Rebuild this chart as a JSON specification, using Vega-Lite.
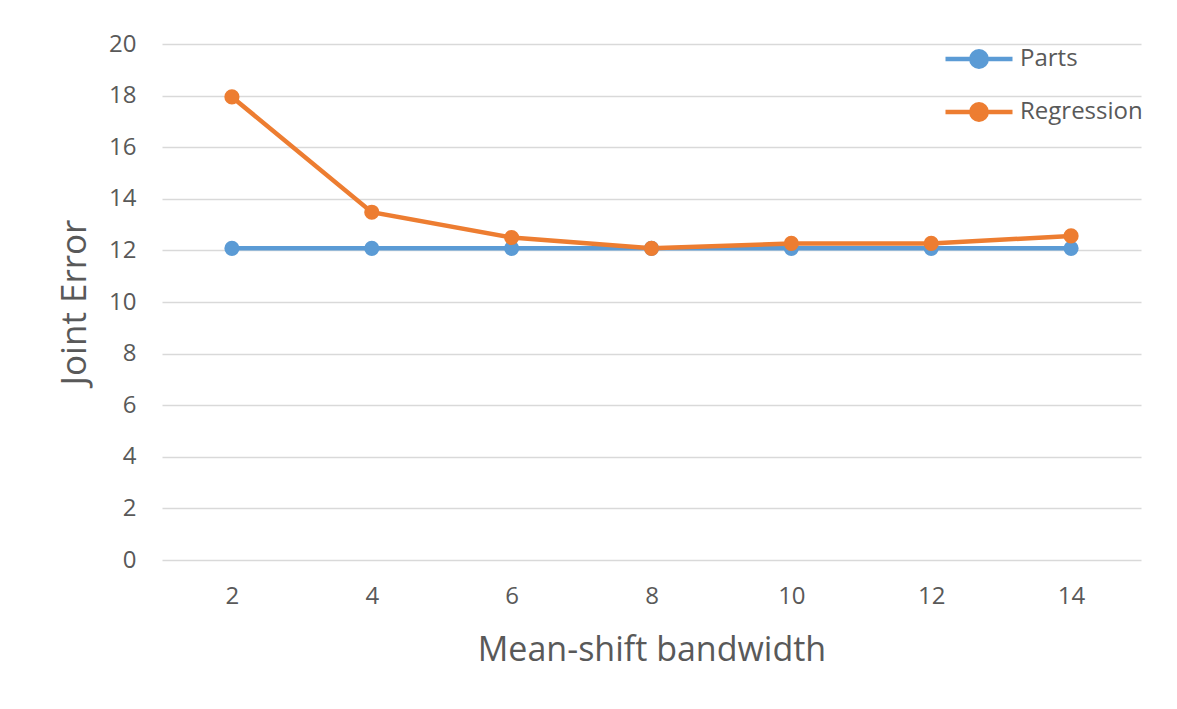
{
  "$schema": "https://vega.github.io/schema/vega-lite/v6.json",
  "width": 979,
  "height": 516,
  "autosize": {"type": "none"},
  "padding": {"left": 162, "top": 44, "right": 36, "bottom": 149},
  "background": "white",
  "config": {
    "view": {"stroke": null},
    "font": "Open Sans",
    "axis": {"labelColor": "#595959", "titleColor": "#595959", "titleFontWeight": "normal", "labelFont": "Open Sans", "titleFont": "Open Sans"},
    "legend": {"labelColor": "#595959", "labelFont": "Open Sans"}
  },
  "data": {
    "values": [
      {"bandwidth": 2, "series": "Parts", "error": 12.08},
      {"bandwidth": 4, "series": "Parts", "error": 12.08},
      {"bandwidth": 6, "series": "Parts", "error": 12.08},
      {"bandwidth": 8, "series": "Parts", "error": 12.08},
      {"bandwidth": 10, "series": "Parts", "error": 12.08},
      {"bandwidth": 12, "series": "Parts", "error": 12.08},
      {"bandwidth": 14, "series": "Parts", "error": 12.08},
      {"bandwidth": 2, "series": "Regression", "error": 17.95},
      {"bandwidth": 4, "series": "Regression", "error": 13.48},
      {"bandwidth": 6, "series": "Regression", "error": 12.5},
      {"bandwidth": 8, "series": "Regression", "error": 12.08},
      {"bandwidth": 10, "series": "Regression", "error": 12.27},
      {"bandwidth": 12, "series": "Regression", "error": 12.27},
      {"bandwidth": 14, "series": "Regression", "error": 12.56}
    ]
  },
  "mark": {"type": "line", "strokeWidth": 4.5, "point": {"filled": true, "size": 230}},
  "encoding": {
    "x": {
      "field": "bandwidth", "type": "ordinal",
      "scale": {"type": "point", "padding": 0.5},
      "sort": null,
      "axis": {"title": "Mean-shift bandwidth", "labelAngle": 0, "labelFontSize": 24, "titleFontSize": 34, "labelPadding": 24, "titlePadding": 25, "ticks": false, "domain": false, "grid": false}
    },
    "y": {
      "field": "error", "type": "quantitative",
      "scale": {"domain": [0, 20]},
      "axis": {"title": "Joint Error", "values": [0, 2, 4, 6, 8, 10, 12, 14, 16, 18, 20], "labelFontSize": 24, "titleFontSize": 35, "labelPadding": 26, "titlePadding": 16, "ticks": false, "domain": false, "grid": true, "gridColor": "#d9d9d9", "gridWidth": 1.5}
    },
    "color": {
      "field": "series", "type": "nominal",
      "scale": {"domain": ["Parts", "Regression"], "range": ["#5B9BD5", "#ED7D31"]},
      "legend": {
        "title": null, "orient": "none", "legendX": 781, "legendY": -21,
        "padding": 0, "rowPadding": -13, "labelFontSize": 24, "labelOffset": 5,
        "symbolType": "M-1,0H1M-0.23,0A0.23,0.23 0 1,1 0.23,0A0.23,0.23 0 1,1 -0.23,0Z",
        "symbolSize": 4489, "symbolStrokeWidth": 4.5,
        "encode": {"symbols": {"update": {"fill": {"scale": "color", "field": "value"}, "stroke": {"scale": "color", "field": "value"}}}}
      }
    }
  }
}
